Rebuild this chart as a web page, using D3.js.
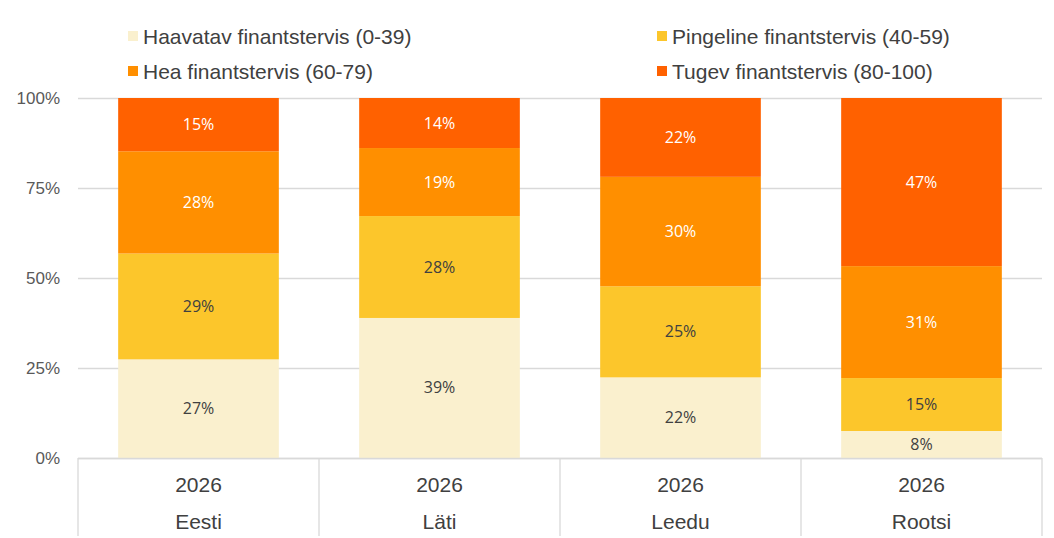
<!DOCTYPE html>
<html><head><meta charset="utf-8">
<script src="https://cdn.jsdelivr.net/npm/d3@7"></script>
<style>body{margin:0;background:#fff}svg{display:block}</style>
</head><body><svg id="c" width="1054" height="538"></svg>
<script>
const countries = ["Eesti", "Läti", "Leedu", "Rootsi"];
const years = ["2026", "2026", "2026", "2026"];
const seriesNames = ["Haavatav finantstervis (0-39)", "Pingeline finantstervis (40-59)", "Hea finantstervis (60-79)", "Tugev finantstervis (80-100)"];
const haavatav = [27.4, 38.9, 22.4, 7.5];
const pingeline = [29.4, 28.3, 25.3, 14.7];
const hea = [28.4, 18.9, 30.4, 31.1];
const tugev = [14.8, 13.9, 21.9, 46.7];
const yTicks = [0, 25, 50, 75, 100];
const colors = ["#FAF0CE", "#FCC62B", "#FF8F00", "#FF6100"];
const labelColors = ["#404040", "#404040", "#ffffff", "#ffffff"];

const svg = d3.select("#c");
const L = 78, R = 1042, T = 98, B = 458;
const x = d3.scaleBand().domain(countries).range([L, R]).paddingInner(1/3).paddingOuter(1/6);
const xOuter = d3.scaleBand().domain(countries).range([L, R]);
const y = d3.scaleLinear().domain([0, 100]).range([B, T]);

const rows = countries.map((c, i) => ({c, s0: haavatav[i], s1: pingeline[i], s2: hea[i], s3: tugev[i]}));
const stack = d3.stack().keys(["s0", "s1", "s2", "s3"])(rows);

// gridlines
svg.append("g").selectAll("line").data(yTicks).join("line")
  .attr("x1", L).attr("x2", R).attr("y1", d => y(d) + 0.5).attr("y2", d => y(d) + 0.5)
  .attr("stroke", "#D9D9D9").attr("stroke-width", 1.3);

// y tick labels
svg.append("g").selectAll("text").data(yTicks).join("text")
  .attr("x", 60).attr("y", d => y(d) + 6).attr("text-anchor", "end")
  .attr("font-family", "Liberation Sans, Arial, sans-serif").attr("font-size", 17).attr("fill", "#595959")
  .text(d => d + "%");

// bars
const layers = svg.append("g").selectAll("g").data(stack).join("g").attr("fill", (d, i) => colors[i]);
layers.selectAll("rect").data(d => d).join("rect")
  .attr("x", d => x(d.data.c)).attr("width", x.bandwidth())
  .attr("y", d => y(d[1])).attr("height", d => y(d[0]) - y(d[1]));

// data labels
stack.forEach((layer, i) => {
  svg.append("g").selectAll("text").data(layer).join("text")
    .attr("x", d => x(d.data.c) + x.bandwidth() / 2)
    .attr("y", d => (y(d[0]) + y(d[1])) / 2 + 5.5)
    .attr("text-anchor", "middle")
    .attr("font-family", "Open Sans, Noto Sans, sans-serif").attr("font-size", 16)
    .attr("fill", labelColors[i])
    .text(d => Math.round(d[1] - d[0]) + "%");
});

// category axis box
const ax = svg.append("g").attr("stroke", "#D9D9D9").attr("stroke-width", 1.3);
ax.append("line").attr("x1", L).attr("x2", R).attr("y1", B + 0.5).attr("y2", B + 0.5);
const bounds = countries.map(c => xOuter(c)).concat([R]);
ax.selectAll("line.v").data(bounds).join("line").attr("class", "v")
  .attr("x1", d => d).attr("x2", d => d).attr("y1", B).attr("y2", 536);

svg.append("g").selectAll("text").data(countries).join("text")
  .attr("x", d => xOuter(d) + xOuter.bandwidth() / 2).attr("y", 492).attr("text-anchor", "middle")
  .attr("font-family", "Liberation Sans, Arial, sans-serif").attr("font-size", 21).attr("fill", "#404040")
  .text((d, i) => years[i]);
svg.append("g").selectAll("text").data(countries).join("text")
  .attr("x", d => xOuter(d) + xOuter.bandwidth() / 2).attr("y", 529).attr("text-anchor", "middle")
  .attr("font-family", "Liberation Sans, Arial, sans-serif").attr("font-size", 21).attr("fill", "#404040")
  .text(d => d);

// legend
const legPos = [[128, 36], [657, 36], [128, 71], [657, 71]];
const leg = svg.append("g").selectAll("g").data(seriesNames).join("g")
  .attr("transform", (d, i) => `translate(${legPos[i][0]},${legPos[i][1]})`);
leg.append("rect").attr("x", 0).attr("y", -5).attr("width", 10).attr("height", 10).attr("fill", (d, i) => colors[i]);
leg.append("text").attr("x", 15).attr("y", 7.5).attr("font-family", "Liberation Sans, Arial, sans-serif")
  .attr("font-size", 21).attr("fill", "#404040").text(d => d);
</script></body></html>
